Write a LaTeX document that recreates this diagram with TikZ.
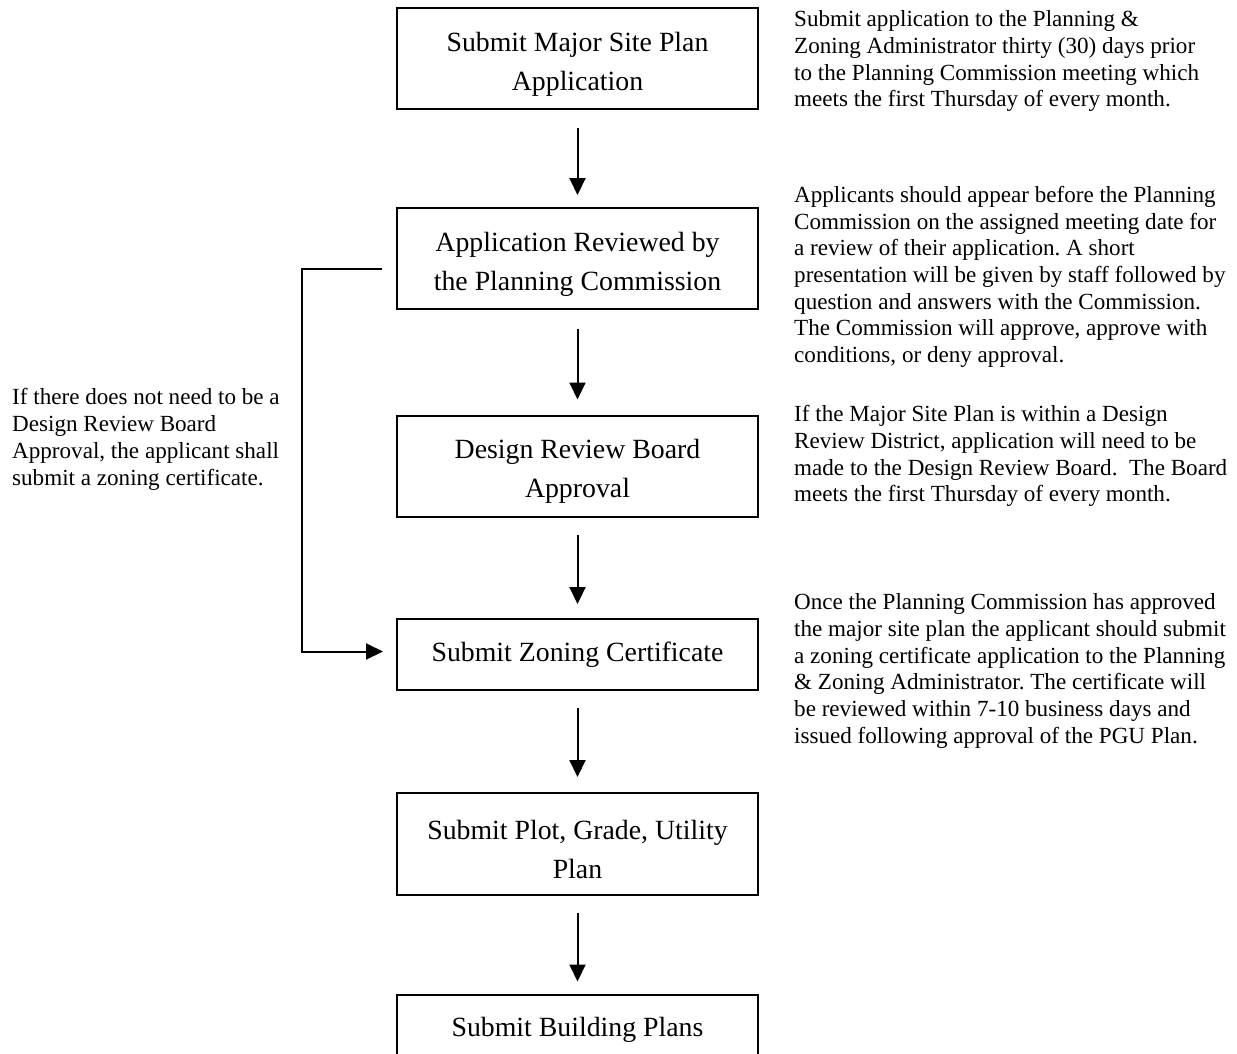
\documentclass[tikz,border=0pt]{standalone}
\usepackage{fontspec}
\setmainfont{Liberation Serif}
\usetikzlibrary{arrows.meta}
\newcommand\boxstrut{\rule{0pt}{30pt}}
\frenchspacing
\begin{document}
\begin{tikzpicture}[x=1pt,y=-1pt,
  box/.style={draw, line width=2pt, minimum width=361pt, inner sep=0pt, align=center,
              font=\fontsize{27.8}{39}\selectfont},
  note/.style={anchor=base west, align=left, inner sep=0pt,
              font=\fontsize{23.1}{26.7}\selectfont},
  arr/.style={line width=2pt, -{Triangle[width=16pt,length=17pt]}}]
\path[use as bounding box] (0,0) rectangle (1237,1053);
\clip (0,0) rectangle (1237,1053);

% boxes
\node[box, minimum height=101pt] (b1) at (577.5,58.5) {\boxstrut Submit Major Site Plan\\Application};
\node[box, minimum height=101pt] (b2) at (577.5,258.5) {\boxstrut Application Reviewed by\\the Planning Commission};
\node[box, minimum height=101pt] (b3) at (577.5,466) {\boxstrut Design Review Board\\Approval};
\node[box, minimum height=71pt] (b4) at (577.5,654.5) {Submit Zoning Certificate};
\node[box, minimum height=102pt] (b5) at (577.5,844) {\boxstrut Submit Plot, Grade, Utility\\Plan};
\node[box, minimum height=71pt] (b6) at (577.5,1030) {Submit Building Plans};

% arrows
\draw[arr] ([yshift=-18pt]b1.south) -- ([yshift=12pt]b2.north);
\draw[arr] ([yshift=-19pt]b2.south) -- ([yshift=15pt]b3.north);
\draw[arr] ([yshift=-17pt]b3.south) -- ([yshift=14pt]b4.north);
\draw[arr] ([yshift=-17pt]b4.south) -- ([yshift=15pt]b5.north);
\draw[arr] ([yshift=-17pt]b5.south) -- ([yshift=12pt]b6.north);

% feedback connector
\coordinate (fb) at ([xshift=-14pt,yshift=-10pt]b2.west);
\coordinate (fbend) at ([xshift=-13pt,yshift=3pt]b4.west);
\coordinate (fbx) at (302,0);
\draw[arr, line join=miter] (fb) -| (fbx |- fbend) -- (fbend);

% notes (anchored at the baseline of their last line)
\node[note] (n1) at (794,106.8) {Submit application to the Planning \&\\Zoning Administrator thirty (30) days prior\\to the Planning Commission meeting which\\meets the first Thursday of every month.};
\node[note] (n2) at (794,362.5) {Applicants should appear before the Planning\\Commission on the assigned meeting date for\\a review of their application. A short\\presentation will be given by staff followed by\\question and answers with the Commission.\\The Commission will approve, approve with\\conditions, or deny approval.};
\node[note] (n3) at (794,501.7) {If the Major Site Plan is within a Design\\Review District, application will need to be\\made to the Design Review Board.\ \ The Board\\meets the first Thursday of every month.};
\node[note] (n4) at (794,743.3) {Once the Planning Commission has approved\\the major site plan the applicant should submit\\a zoning certificate application to the Planning\\\& Zoning Administrator. The certificate will\\be reviewed within 7-10 business days and\\issued following approval of the PGU Plan.};
\node[note] (n5) at (12,485) {If there does not need to be a\\Design Review Board\\Approval, the applicant shall\\submit a zoning certificate.};
\end{tikzpicture}
\end{document}
